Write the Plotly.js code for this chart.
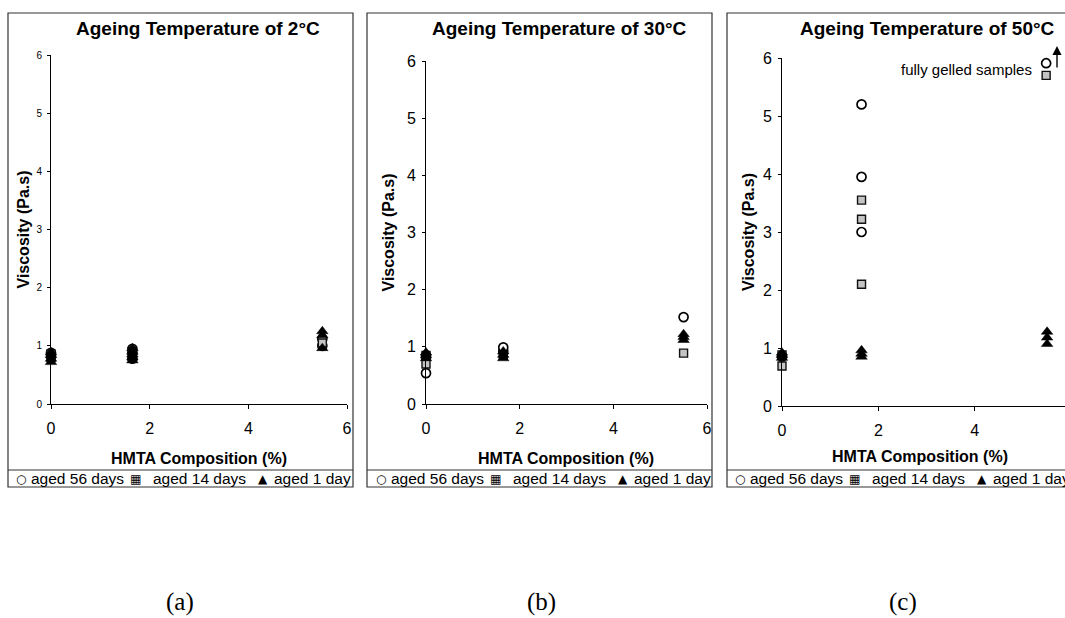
<!DOCTYPE html>
<html>
<head>
<meta charset="utf-8">
<script src="https://cdn.plot.ly/plotly-3.0.1.min.js"></script>
<style>html,body{margin:0;padding:0;background:#fff;}#chart{width:1065px;height:618px;}</style>
</head>
<body>
<div id="chart"></div>
<script>
// ---- data (HMTA composition %, viscosity Pa.s) ----
const panelTitles = ["Ageing Temperature of 2°C", "Ageing Temperature of 30°C", "Ageing Temperature of 50°C"];
const panelLabels = ["(a)", "(b)", "(c)"];
const seriesNames = ["aged 56 days", "aged 14 days", "aged 1 day"];
const xTickVals = [0, 2, 4, 6];
const yTickVals = [0, 1, 2, 3, 4, 5, 6];

// 2°C
const a56x = [0, 0, 1.65, 1.65, 1.65, 5.5, 5.5];
const a56y = [0.82, 0.88, 0.78, 0.88, 0.95, 1.0, 1.12];
const a14x = [0, 0, 1.65, 1.65, 5.5];
const a14y = [0.8, 0.86, 0.82, 0.9, 1.05];
const a1x  = [0, 0, 0, 0, 1.65, 1.65, 1.65, 1.65, 1.65, 5.5, 5.5, 5.5];
const a1y  = [0.72, 0.78, 0.84, 0.89, 0.75, 0.8, 0.85, 0.9, 0.96, 0.96, 1.18, 1.25];
// 30°C
const b56x = [0, 0, 1.65, 1.65, 5.5];
const b56y = [0.54, 0.85, 0.92, 0.99, 1.52];
const b14x = [0, 0, 1.65, 5.5];
const b14y = [0.7, 0.85, 0.85, 0.89];
const b1x  = [0, 0, 0, 1.65, 1.65, 1.65, 5.5, 5.5, 5.5];
const b1y  = [0.8, 0.85, 0.9, 0.8, 0.86, 0.92, 1.12, 1.17, 1.22];
// 50°C
const c56x = [0, 1.65, 1.65, 1.65, 5.48];
const c56y = [0.85, 5.2, 3.95, 3.0, 5.91];
const c14x = [0, 0, 1.65, 1.65, 1.65, 5.48];
const c14y = [0.69, 0.88, 3.55, 3.22, 2.1, 5.7];
const c1x  = [0, 0, 0, 1.65, 1.65, 1.65, 5.5, 5.5, 5.5];
const c1y  = [0.83, 0.88, 0.92, 0.85, 0.9, 0.96, 1.07, 1.18, 1.28];

const W = 1065, H = 618;
const px = x => x / W;
const py = y => 1 - y / H;
const FONT = "Liberation Sans, Arial, sans-serif";

const styles = [
  {symbol: "circle", size: 9, color: "#ffffff", line: {color: "#000", width: 1.7}},
  {symbol: "square", size: 8, color: "#c4c4c4", line: {color: "#111", width: 1.4}},
  {symbol: "triangle-up", size: 10, color: "#000", line: {color: "#000", width: 0.5}}
];

const panelData = [
  [[a56x, a56y], [a14x, a14y], [a1x, a1y]],
  [[b56x, b56y], [b14x, b14y], [b1x, b1y]],
  [[c56x, c56y], [c14x, c14y], [c1x, c1y]]
];

const traces = [];
const drawOrder = [0, 1, 2];
panelData.forEach((pd, p) => {
  const sfx = p === 0 ? "" : String(p + 1);
  drawOrder.forEach(s => {
    traces.push({
      type: "scatter", mode: "markers",
      name: seriesNames[s],
      x: pd[s][0], y: pd[s][1],
      xaxis: "x" + sfx, yaxis: "y" + sfx,
      cliponaxis: false,
      marker: {symbol: styles[s].symbol, size: styles[s].size, color: styles[s].color, line: styles[s].line},
      showlegend: false, hoverinfo: "x+y"
    });
  });
});

// geometry (pixels)
const geo = [
  {x0: 51, x1: 347, xr: [0, 6], yTop: 55, yBot: 404, yfs: 10, frame: [8, 353], title: [198, 28], ytitle: 23, xtitle: [199, 458], legendX: 14, label: 180},
  {x0: 426, x1: 707, xr: [0, 6], yTop: 61, yBot: 404, yfs: 16, frame: [367, 712], title: [559, 28], ytitle: 388, xtitle: [566, 458], legendX: 374, label: 541},
  {x0: 782, x1: 1065, xr: [0, (1065 - 782) / 48.2], yTop: 58, yBot: 406, yfs: 16, frame: [727, 1075], title: [927, 28], ytitle: 748, xtitle: [920, 456], legendX: 733, label: 903}
];

const layout = {
  width: W, height: H,
  margin: {l: 0, r: 0, t: 0, b: 0, pad: 0},
  paper_bgcolor: "#fff", plot_bgcolor: "rgba(0,0,0,0)",
  showlegend: false,
  font: {family: FONT, color: "#000"},
  annotations: [], shapes: []
};

geo.forEach((g, p) => {
  const sfx = p === 0 ? "" : String(p + 1);
  layout["xaxis" + sfx] = {
    domain: [px(g.x0), px(g.x1)], range: g.xr, anchor: "y" + sfx,
    tickvals: xTickVals, ticks: "outside", ticklen: 4, tickcolor: "#000",
    showline: true, linecolor: "#000", linewidth: 1, mirror: false,
    showgrid: false, zeroline: false, fixedrange: true,
    tickfont: {family: FONT, size: 16, color: "#000"}, ticklabelstandoff: 6
  };
  layout["yaxis" + sfx] = {
    domain: [py(g.yBot), py(g.yTop)], range: [0, 6], anchor: "x" + sfx,
    tickvals: yTickVals, ticks: "outside", ticklen: 3, tickcolor: "#000",
    showline: true, linecolor: "#000", linewidth: 1,
    showgrid: false, zeroline: false, fixedrange: true,
    tickfont: {family: FONT, size: g.yfs, color: "#000"}, ticklabelstandoff: 3
  };
  // frame and legend divider
  layout.shapes.push({type: "rect", xref: "paper", yref: "paper",
    x0: px(g.frame[0]), x1: px(g.frame[1]), y0: py(487), y1: py(13),
    line: {color: "#333", width: 1.2}, fillcolor: "rgba(0,0,0,0)"});
  layout.shapes.push({type: "line", xref: "paper", yref: "paper",
    x0: px(g.frame[0]), x1: px(g.frame[1]), y0: py(470), y1: py(470),
    line: {color: "#333", width: 1.2}});
  // titles
  layout.annotations.push({xref: "paper", yref: "paper", x: px(g.title[0]), y: py(g.title[1]),
    text: "<b>" + panelTitles[p] + "</b>", showarrow: false, xanchor: "center", yanchor: "middle",
    font: {family: FONT, size: 19, color: "#000"}});
  layout.annotations.push({xref: "paper", yref: "paper", x: px(g.ytitle), y: py((g.yTop + g.yBot) / 2),
    text: "<b>Viscosity (Pa.s)</b>", textangle: -90, showarrow: false, xanchor: "center", yanchor: "middle",
    font: {family: FONT, size: 16, color: "#000"}});
  layout.annotations.push({xref: "paper", yref: "paper", x: px(g.xtitle[0]), y: py(g.xtitle[1]),
    text: "<b>HMTA Composition (%)</b>", showarrow: false, xanchor: "center", yanchor: "middle",
    font: {family: FONT, size: 16, color: "#000"}});
  // legend row
  const items = [["○", 0], ["aged 56 days", 15], ["▦", 114], ["aged 14 days", 137], ["▲", 242], ["aged 1 day", 258]];
  items.forEach(([t, dx], i) => {
    layout.annotations.push({xref: "paper", yref: "paper", x: px(g.legendX + dx), y: py(479),
      text: t, showarrow: false, xanchor: "left", yanchor: "middle",
      font: {family: (i % 2 === 0) ? "DejaVu Sans, " + FONT : FONT, size: (i % 2 === 0) ? 12 : 15.5, color: "#000"}});
  });
  // panel label
  layout.annotations.push({xref: "paper", yref: "paper", x: px(g.label), y: py(602),
    text: panelLabels[p], showarrow: false, xanchor: "center", yanchor: "middle",
    font: {family: "Liberation Serif, Times New Roman, serif", size: 25, color: "#000"}});
});

// fully gelled note + arrow (panel c)
layout.annotations.push({xref: "paper", yref: "paper", x: px(1034), y: py(70),
  text: "fully gelled samples", showarrow: false, xanchor: "right", yanchor: "middle",
  font: {family: FONT, size: 15, color: "#000"}});
layout.annotations.push({xref: "paper", yref: "paper", x: px(1057), y: py(46),
  text: "", showarrow: true, ax: 0, ay: 23, arrowhead: 2, arrowsize: 1.3, arrowwidth: 1.4, arrowcolor: "#000"});

Plotly.newPlot("chart", traces, layout, {staticPlot: true, displayModeBar: false});
</script>
</body>
</html>
